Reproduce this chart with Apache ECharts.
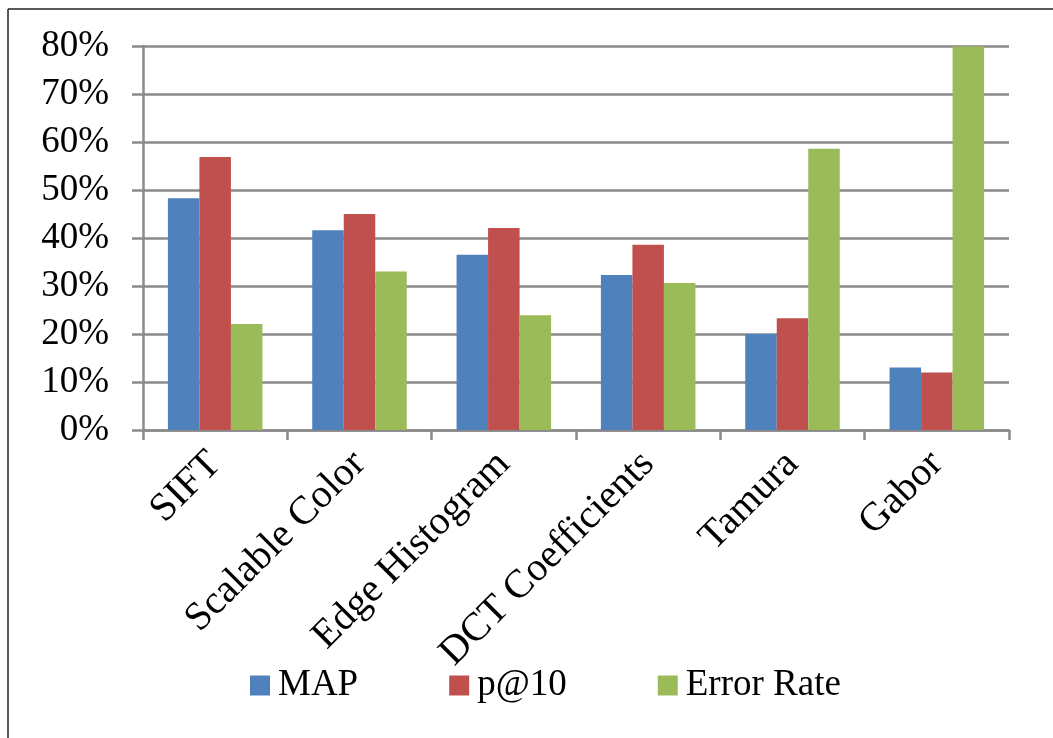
<!DOCTYPE html>
<html>
<head>
<meta charset="utf-8">
<script src="https://cdn.jsdelivr.net/npm/echarts@6/dist/echarts.min.js"></script>
<style>
html,body{margin:0;padding:0;background:#fff;}
#chart{width:1053px;height:738px;}
</style>
</head>
<body>
<div id="chart"></div>
<script>
const categories = ['SIFT', 'Scalable Color', 'Edge Histogram', 'DCT Coefficients', 'Tamura', 'Gabor'];
const mapValues = [48.3, 41.6, 36.5, 32.3, 20.0, 13.0];
const p10Values = [56.9, 45.0, 42.1, 38.6, 23.3, 12.0];
const errorValues = [22.1, 33.0, 23.9, 30.6, 58.6, 79.9];
const yTicks = { min: 0, max: 80, interval: 10 };

const font = '"Liberation Serif", "Times New Roman", serif';
const gridColor = '#8a8a8a';

const chart = echarts.init(document.getElementById('chart'));
chart.setOption({
  backgroundColor: '#ffffff',
  animation: false,
  graphic: [
    { type: 'line', shape: { x1: 8, y1: 9, x2: 1053, y2: 9 }, style: { stroke: '#222', lineWidth: 1.5 } },
    { type: 'line', shape: { x1: 8, y1: 9, x2: 8, y2: 738 }, style: { stroke: '#222', lineWidth: 1.5 } }
  ],
  grid: { left: 143, right: 44, top: 46, bottom: 308, containLabel: false },
  legend: {
    left: 245,
    top: 662,
    itemWidth: 20,
    itemHeight: 20,
    itemGap: 91,
    icon: 'rect',
    textStyle: { fontFamily: font, fontSize: 37, color: '#000', padding: [0, 0, 0, 3] },
    data: ['MAP', 'p@10', 'Error Rate']
  },
  xAxis: {
    type: 'category',
    data: categories,
    axisLine: { show: true, lineStyle: { color: gridColor, width: 2.5 } },
    axisTick: { show: true, length: 10, lineStyle: { color: gridColor, width: 2.5 } },
    axisLabel: { rotate: 45, margin: 28, fontFamily: font, fontSize: 40, color: '#000', interval: 0 }
  },
  yAxis: {
    type: 'value',
    min: yTicks.min,
    max: yTicks.max,
    interval: yTicks.interval,
    axisLine: { show: true, lineStyle: { color: gridColor, width: 2.5 } },
    axisTick: { show: true, inside: false, length: 11, lineStyle: { color: gridColor, width: 2.5 } },
    splitLine: { show: true, lineStyle: { color: gridColor, width: 2.5 } },
    axisLabel: { formatter: '{value}%', margin: 34, fontFamily: font, fontSize: 37, color: '#000' }
  },
  series: [
    { name: 'MAP', type: 'bar', data: mapValues, itemStyle: { color: '#4F81BD' }, barGap: '0%', barCategoryGap: '34.5%' },
    { name: 'p@10', type: 'bar', data: p10Values, itemStyle: { color: '#C0504D' }, barGap: '0%', barCategoryGap: '34.5%' },
    { name: 'Error Rate', type: 'bar', data: errorValues, itemStyle: { color: '#9BBB59' }, barGap: '0%', barCategoryGap: '34.5%' }
  ]
});
</script>
</body>
</html>
